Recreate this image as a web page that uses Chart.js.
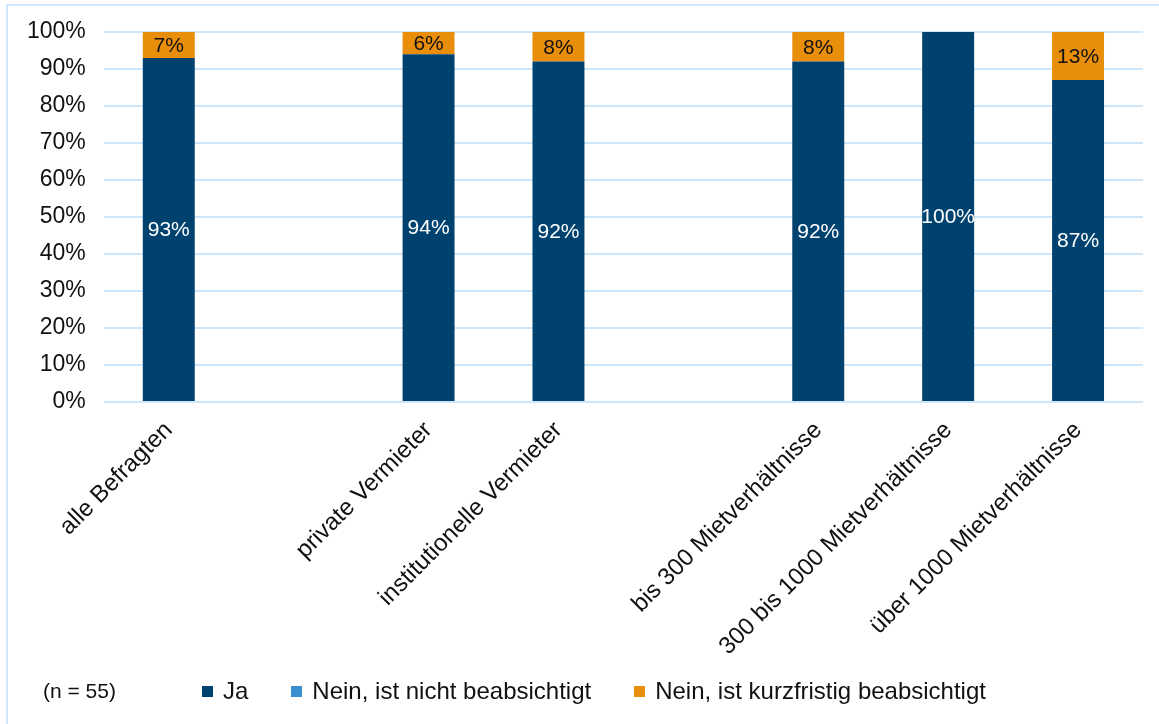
<!DOCTYPE html>
<html>
<head>
<meta charset="utf-8">
<script src="https://cdn.jsdelivr.net/npm/chart.js@4/dist/chart.umd.min.js"></script>
<style>
  html, body { margin: 0; padding: 0; background: #fff; }
  body { width: 1159px; height: 724px; position: relative; overflow: hidden; font-family: "Liberation Sans", Arial, Helvetica, sans-serif; }
  #frame { position: absolute; left: 6px; top: 4px; width: 1200px; height: 800px; border: 2px solid #d2e8fa; box-sizing: border-box; }
  #wrap { position: absolute; left: 0; top: 0; width: 1159px; height: 724px; }
  #note { position: absolute; left: 43px; top: 679px; font-size: 21px; color: #111; }
  #legend { position: absolute; left: 202px; top: 677px; display: flex; font-size: 24px; color: #111; }
  .item { display: flex; align-items: center; margin-right: 43px; white-space: nowrap; }
  .sw { width: 11px; height: 11px; margin-right: 10px; display: inline-block; }
</style>
</head>
<body>
<div id="frame"></div>
<div id="wrap"><canvas id="c"></canvas></div>
<div id="note">(n = 55)</div>
<div id="legend"></div>
<script>
const categories = ["alle Befragten", "", "private Vermieter", "institutionelle Vermieter", "", "bis 300 Mietverhältnisse", "300 bis 1000 Mietverhältnisse", "über 1000 Mietverhältnisse"];
const jaValues = [93, null, 94, 92, null, 92, 100, 87];
const neinNichtValues = [0, null, 0, 0, null, 0, 0, 0];
const neinKurzValues = [7, null, 6, 8, null, 8, 0, 13];
const yTicks = [0, 10, 20, 30, 40, 50, 60, 70, 80, 90, 100];
const seriesNames = ["Ja", "Nein, ist nicht beabsichtigt", "Nein, ist kurzfristig beabsichtigt"];
const seriesColors = ["#00426f", "#3b8fcf", "#e98e0b"];
const labelColors = ["#ffffff", "#ffffff", "#111111"];

const FONT = '"Liberation Sans", Arial, Helvetica, sans-serif';

const valueLabels = {
  id: 'valueLabels',
  afterDatasetsDraw(chart) {
    const ctx = chart.ctx;
    ctx.save();
    ctx.font = '21px ' + FONT;
    ctx.textAlign = 'center';
    ctx.textBaseline = 'middle';
    chart.data.datasets.forEach((ds, di) => {
      const meta = chart.getDatasetMeta(di);
      meta.data.forEach((el, i) => {
        const v = ds.data[i];
        if (v === null || v === 0) return;
        const p = el.getProps(['x', 'y', 'base'], true);
        ctx.fillStyle = labelColors[di];
        ctx.fillText(v + '%', p.x, (p.y + p.base) / 2 + 1);
      });
    });
    ctx.restore();
  }
};

const datasets = [jaValues, neinNichtValues, neinKurzValues].map((d, i) => ({
  label: seriesNames[i],
  data: d,
  backgroundColor: seriesColors[i],
  borderWidth: 0,
  categoryPercentage: 1,
  barPercentage: 0.4
}));

new Chart(document.getElementById('c'), {
  type: 'bar',
  data: { labels: categories, datasets },
  plugins: [valueLabels],
  options: {
    responsive: true,
    maintainAspectRatio: false,
    animation: false,
    layout: { padding: { left: 9, right: 16, top: 32, bottom: 49 } },
    plugins: { legend: { display: false }, tooltip: { enabled: false } },
    scales: {
      x: {
        stacked: true,
        grid: { display: false, drawTicks: false },
        border: { display: false },
        afterFit(scale) { scale.paddingLeft = 0; scale.paddingRight = 0; },
        ticks: {
          color: '#111',
          font: { family: FONT, size: 24 },
          minRotation: 45, maxRotation: 45,
          autoSkip: false,
          padding: 14
        }
      },
      y: {
        stacked: true,
        min: 0, max: 100,
        afterBuildTicks(scale) { scale.ticks = yTicks.map(v => ({ value: v })); },
        grid: { color: '#cde6f9', lineWidth: 2, drawTicks: false },
        border: { display: false },
        ticks: {
          color: '#111',
          font: { family: FONT, size: 23 },
          padding: 18,
          callback: v => v + '%'
        }
      }
    }
  }
});

const leg = document.getElementById('legend');
seriesNames.forEach((n, i) => {
  const it = document.createElement('div');
  it.className = 'item';
  const sw = document.createElement('span');
  sw.className = 'sw';
  sw.style.background = seriesColors[i];
  it.appendChild(sw);
  it.appendChild(document.createTextNode(n));
  leg.appendChild(it);
});
</script>
</body>
</html>
